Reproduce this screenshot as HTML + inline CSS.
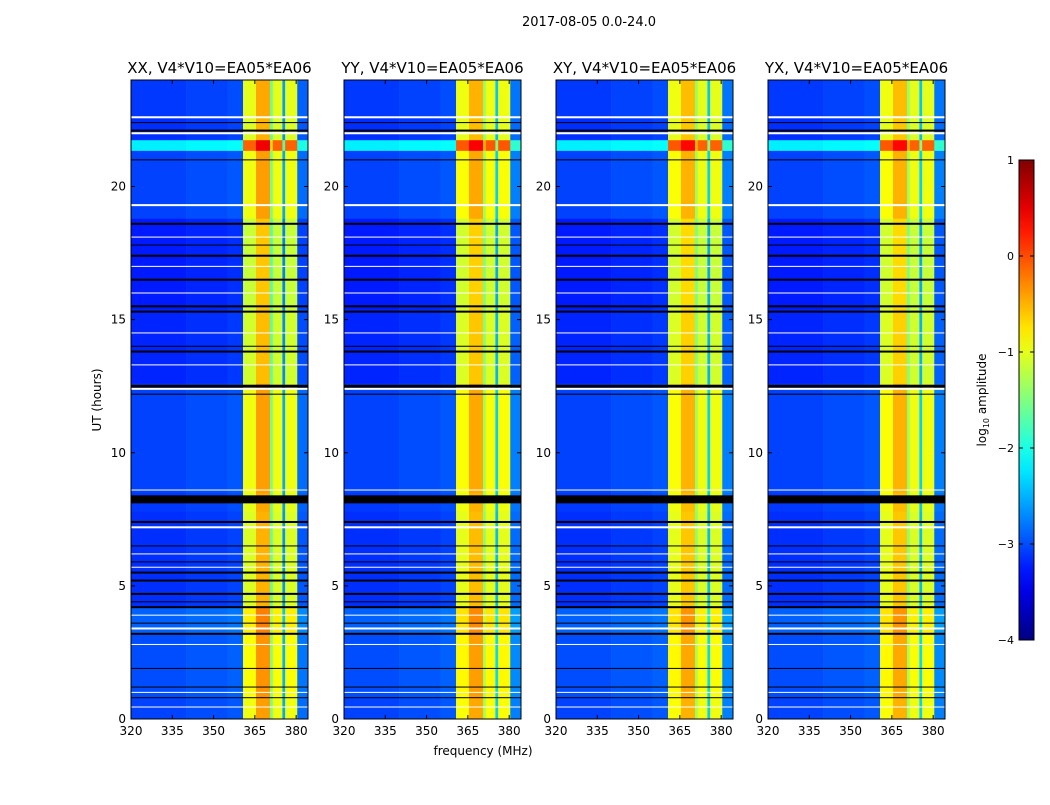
<!DOCTYPE html>
<html><head><meta charset="utf-8"><style>
body{margin:0;background:#fff;font-family:"Liberation Sans","DejaVu Sans",sans-serif}
svg text{font-family:"DejaVu Sans","Liberation Sans",sans-serif}
</style></head><body>
<svg id="fig" width="1050" height="800" viewBox="0 0 1050 800" xmlns="http://www.w3.org/2000/svg">
<rect width="1050" height="800" fill="#fff"/>
<text x="589" y="26" font-size="13" text-anchor="middle">2017-08-05 0.0-24.0</text>
<text transform="translate(101,400) rotate(-90)" font-size="12" text-anchor="middle">UT (hours)</text>
<text x="483" y="755" font-size="12" text-anchor="middle">frequency (MHz)</text>
<g id="panels"></g>
<g id="cbar"></g>
</svg>
<script>
const panelNames=["XX, V4*V10=EA05*EA06","YY, V4*V10=EA05*EA06","XY, V4*V10=EA05*EA06","YX, V4*V10=EA05*EA06"];
const freqEdges=[320,340,355,360.7,365.4,370.5,371.5,375,376,380.4,384];
const freqValsXX=[-3.1,-3.05,-3.0,-1.0,-0.45,-1.6,-1.0,-2.6,-1.0,-2.9];
const freqValsYY=[-3.1,-3.05,-3.0,-0.95,-0.5,-1.4,-0.95,-2.4,-0.95,-2.8];
const freqValsXY=[-3.1,-3.05,-3.0,-0.95,-0.55,-1.4,-1.0,-2.4,-1.0,-2.8];
const freqValsYX=[-3.1,-3.05,-3.0,-0.95,-0.55,-1.4,-1.0,-2.4,-1.0,-2.8];
const timeSegStart=[0,0.8,3.2,4.2,7.8,8.5,12.6,15.4,18.8,21.35,21.75,22.6];
const timeSegEnd=[0.8,3.2,4.2,7.8,8.5,12.6,15.4,18.8,21.35,21.75,22.6,24];
const timeSegOffset=[0.05,0.1,0.2,-0.05,0,0.05,-0.1,-0.15,0.05,0.9,-0.05,0];
const blackFlags=[0.8,1.2,1.9,3.2,3.6,4.2,4.4,4.7,5.2,5.5,5.9,6.5,7.4,8.25,12.2,12.5,13.8,14.0,15.3,15.5,16.5,17.4,17.8,18.6,21.0,22.1,22.4];
const blackWidths=[1,1,1,2,1,2,1,2,2,2,1,1,2,8,1,3,2,1,2,2,2,2,1,2,1,2,1];
const whiteFlags=[0.45,1.0,2.8,3.4,3.9,5.7,6.2,7.2,8.6,12.4,13.3,14.5,16.0,17.0,18.1,19.3,22.0,22.6];
const whiteWidths=[1,1,1,2,1,1,1,2,1,2,1,1,1,1,1,2,2,2];
const yTicks=[0,5,10,15,20];
const xTicks=[320,335,350,365,380];
const cbTicks=[1,0,-1,-2,-3,-4];
const allVals=[freqValsXX,freqValsYY,freqValsXY,freqValsYX];
const panelX=[131,344,556,768];
const PW=177,PT=80,PB=719,F0=320,F1=384.3,T0=0,T1=24,VMIN=-4,VMAX=1;
const NS="http://www.w3.org/2000/svg";
function jet(v){let x=(v-VMIN)/(VMAX-VMIN);x=Math.max(0,Math.min(1,x));
 const c=t=>Math.round(255*Math.max(0,Math.min(1,1.5-Math.abs(4*x-t))));
 return `rgb(${c(3)},${c(2)},${c(1)})`;}
function el(tag,attrs,parent){const e=document.createElementNS(NS,tag);for(const k in attrs)e.setAttribute(k,attrs[k]);parent.appendChild(e);return e;}
const panels=document.getElementById('panels');
panelNames.forEach((nm,p)=>{
 const x0=panelX[p];
 const xs=f=>x0+(f-F0)/(F1-F0)*PW;
 const ys=t=>PB-(t-T0)/(T1-T0)*(PB-PT);
 const g=el('g',{},panels);
 
 
 const vals=allVals[p];
 for(let s=0;s<timeSegStart.length;s++){
  for(let i=0;i<vals.length;i++){
   const r=el('rect',{x:xs(freqEdges[i]),y:ys(timeSegEnd[s]),width:xs(freqEdges[i+1])-xs(freqEdges[i])+0.3,height:ys(timeSegStart[s])-ys(timeSegEnd[s])+0.3,fill:jet(vals[i]+timeSegOffset[s])},g);
   
   
  }
 }
 blackFlags.forEach((t,i)=>{const r=el('rect',{x:x0,y:ys(t)-blackWidths[i]/2,width:PW,height:blackWidths[i],fill:'#000'},g);
  
  });
 whiteFlags.forEach((t,i)=>{const r=el('rect',{x:x0,y:ys(t)-whiteWidths[i]/2,width:PW,height:whiteWidths[i],fill:'#fff'},g);
  
  });
 el('rect',{x:x0,y:PT,width:PW,height:PB-PT,fill:'none',stroke:'#000','stroke-width':1},g);
 const tt=el('text',{x:x0+PW/2,y:73,'font-size':15,'text-anchor':'middle'},g);tt.textContent=nm;
 
 
 yTicks.forEach(t=>{const y=ys(t);el('line',{x1:x0,x2:x0+4,y1:y,y2:y,stroke:'#000'},g);el('line',{x1:x0+PW-4,x2:x0+PW,y1:y,y2:y,stroke:'#000'},g);
  const l=el('text',{x:x0-5,y:y+4,'font-size':12,'text-anchor':'end'},g);l.textContent=t;
  
  });
 xTicks.forEach(f=>{const x=xs(f);el('line',{x1:x,x2:x,y1:PB,y2:PB-4,stroke:'#000'},g);el('line',{x1:x,x2:x,y1:PT,y2:PT+4,stroke:'#000'},g);
  const l=el('text',{x:x,y:PB+16,'font-size':12,'text-anchor':'middle'},g);l.textContent=f;
  
  });
});
const cb=document.getElementById('cbar');
const CX=1019,CW=15,CT=160,CB=640;
const cy=v=>CB-(v-VMIN)/(VMAX-VMIN)*(CB-CT);
const defs=el('defs',{},cb);const lg=el('linearGradient',{id:'jg',x1:0,y1:1,x2:0,y2:0},defs);
for(let i=0;i<=20;i++){const v=VMIN+(VMAX-VMIN)*i/20;el('stop',{offset:i/20,'stop-color':jet(v)},lg);}
el('rect',{x:CX,y:CT,width:CW,height:CB-CT,fill:'url(#jg)',stroke:'#000'},cb);
cbTicks.forEach(v=>{const y=cy(v);el('line',{x1:CX,x2:CX+4,y1:y,y2:y,stroke:'#000'},cb);el('line',{x1:CX+CW-4,x2:CX+CW,y1:y,y2:y,stroke:'#000'},cb);
 const l=el('text',{x:CX-5,y:y+4,'font-size':11,'text-anchor':'end'},cb);l.textContent=(v<0?'\u2212'+(-v):v);
 
 });
const cl=el('text',{transform:'translate(986,400) rotate(-90)','font-size':12,'text-anchor':'middle'},cb);
cl.innerHTML='log<tspan font-size="8" dy="3">10</tspan><tspan dy="-3"> amplitude</tspan>';


</script>
</body></html>
